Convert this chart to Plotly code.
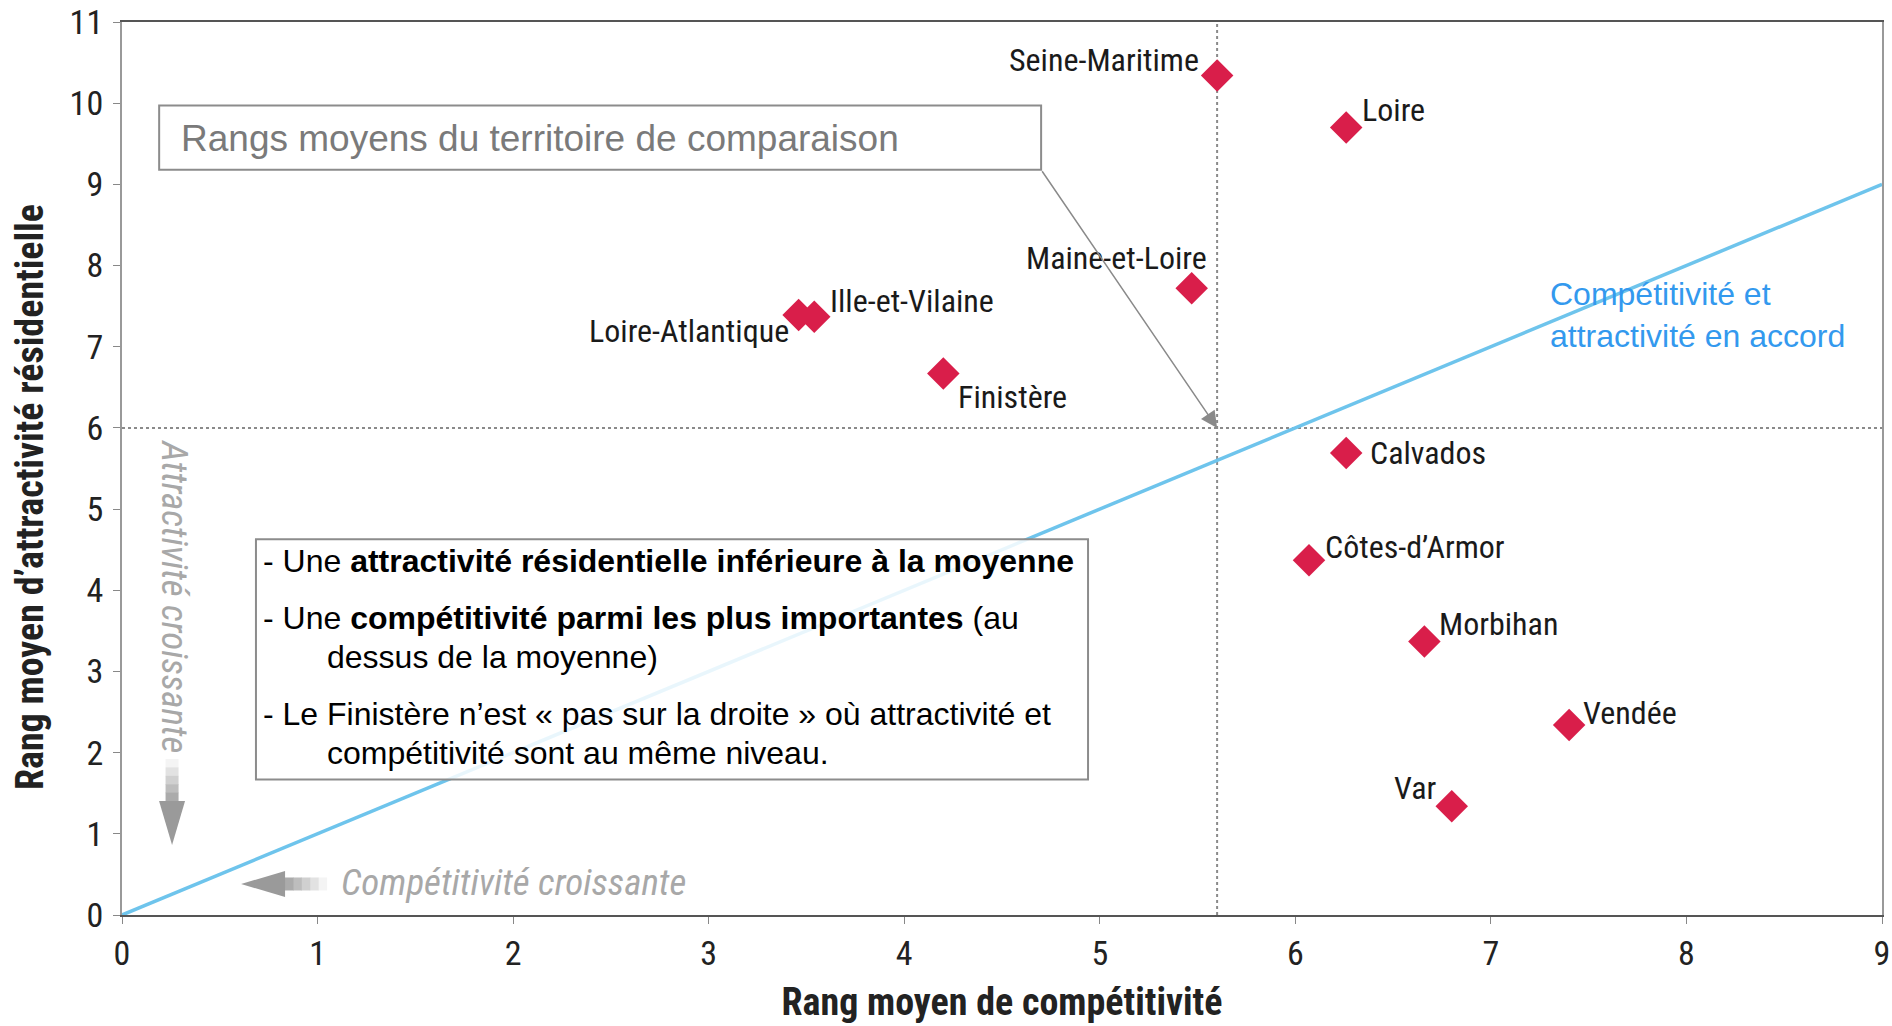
import plotly.graph_objects as go

# ---- data ----
departements = ["Seine-Maritime", "Loire", "Maine-et-Loire", "Ille-et-Vilaine", "Loire-Atlantique",
                "Finistère", "Calvados", "Côtes-d’Armor", "Morbihan", "Vendée", "Var"]
competitivite = [5.60, 6.26, 5.47, 3.54, 3.46, 4.20, 6.26, 6.07, 6.66, 7.40, 6.80]
attractivite = [10.34, 9.70, 7.72, 7.37, 7.39, 6.67, 5.69, 4.37, 3.37, 2.34, 1.34]

moyenne_competitivite = 5.6
moyenne_attractivite = 6.0

diag_x = [0, 9]
diag_y = [0, 9]

x_ticks = [0, 1, 2, 3, 4, 5, 6, 7, 8, 9]
y_ticks = [0, 1, 2, 3, 4, 5, 6, 7, 8, 9, 10, 11]

# label placement (style): xanchor, xshift, yshift
label_style = [
    ("right", -16, 16), ("left", 14, 18), ("right", 17, 30), ("left", 14, 16),
    ("right", -8, -16), ("left", 13, -23), ("left", 22, 0), ("left", 14, 13),
    ("left", 13, 17), ("left", 12, 12), ("right", -13, 18),
]

NARROW = "Liberation Sans Narrow, Arial Narrow, Roboto Condensed, DejaVu Sans Condensed, sans-serif"
REG = "Liberation Sans, Arial, Helvetica, sans-serif"

fig = go.Figure()

fig.add_trace(go.Scatter(x=diag_x, y=diag_y, mode="lines",
                         line=dict(color="#6EC4EC", width=3.5), hoverinfo="skip", showlegend=False))

fig.add_trace(go.Scatter(x=competitivite, y=attractivite, mode="markers",
                         marker=dict(symbol="diamond", size=25, color="#D91E4A"),
                         text=departements, showlegend=False))

# mean lines
fig.add_shape(type="line", xref="x", yref="paper", x0=moyenne_competitivite, x1=moyenne_competitivite,
              y0=0, y1=1, line=dict(color="#8a8a8a", width=2, dash="dot"), layer="below")
fig.add_shape(type="line", xref="paper", yref="y", x0=0, x1=1, y0=moyenne_attractivite,
              y1=moyenne_attractivite, line=dict(color="#8a8a8a", width=2, dash="dot"), layer="below")

# point labels
for name, cx, cy, (xa, xs, ys) in zip(departements, competitivite, attractivite, label_style):
    fig.add_annotation(x=cx, y=cy, text=name, showarrow=False, xanchor=xa, yanchor="middle",
                       xshift=xs, yshift=ys, font=dict(family=NARROW, size=32, color="#1a1a1a"))

# box "Rangs moyens"
fig.add_shape(type="rect", xref="x", yref="y", x0=0.19, x1=4.70, y0=9.18, y1=9.97,
              line=dict(color="#8c8c8c", width=2), fillcolor="white", layer="above")
fig.add_annotation(x=0.29, y=9.56, text="Rangs moyens du territoire de comparaison", showarrow=False,
                   xanchor="left", yanchor="middle", font=dict(family=REG, size=37, color="#7a7a7a"))
fig.add_annotation(x=moyenne_competitivite, y=moyenne_attractivite, ax=4.70, ay=9.18, axref="x", ayref="y",
                   text="", showarrow=True, arrowhead=2, arrowsize=2.2, arrowwidth=1.5,
                   arrowcolor="#8a8a8a", standoff=0)

# explanation box
fig.add_shape(type="rect", xref="x", yref="y", x0=0.685, x1=4.94, y0=1.67, y1=4.63,
              line=dict(color="#8c8c8c", width=2), fillcolor="rgba(255,255,255,0.85)", layer="above")
box_lines = [
    (0.71, 4.36, "- Une <b>attractivité résidentielle inférieure à la moyenne</b>"),
    (0.71, 3.66, "- Une <b>compétitivité parmi les plus importantes</b> (au"),
    (1.04, 3.18, "dessus de la moyenne)"),
    (0.71, 2.48, "- Le Finistère n’est « pas sur la droite » où attractivité et"),
    (1.04, 2.00, "compétitivité sont au même niveau."),
]
for bx, by, bt in box_lines:
    fig.add_annotation(x=bx, y=by, text=bt, showarrow=False, xanchor="left", yanchor="middle",
                       font=dict(family=REG, size=32, color="#000000"))

# blue text
fig.add_annotation(x=7.29, y=7.39, text="Compétitivité et<br>attractivité en accord", showarrow=False,
                   xanchor="left", yanchor="middle", align="left",
                   font=dict(family=REG, size=32, color="#3399EE"))

# gray direction hints
fig.add_annotation(x=0.265, y=3.93, text="<i>Attractivité croissante</i>", textangle=90, showarrow=False,
                   font=dict(family=NARROW, size=37, color="#a8a8a8"))
fig.add_annotation(x=2.0, y=0.40, text="<i>Compétitivité croissante</i>", showarrow=False,
                   font=dict(family=NARROW, size=37, color="#a8a8a8"))

# gradient arrows drawn as pixel-sized path shapes (tip anchored in data space)
shaft_grays = ["#f4f4f4", "#e2e2e2", "#d0d0d0", "#bdbdbd", "#ababab"]
def arrow(tip_x, tip_y, direction):
    seg = 8.4  # shaft segment length px
    head_len, head_w, shaft_w = 44, 13, 6.5
    for i, col in enumerate(shaft_grays):
        a = head_len + seg * (len(shaft_grays) - i)
        b = head_len + seg * (len(shaft_grays) - i - 1) - 0.5
        if direction == "down":
            p = f"M{-shaft_w},{a} L{shaft_w},{a} L{shaft_w},{b} L{-shaft_w},{b} Z"
        else:
            p = f"M{a},{-shaft_w} L{a},{shaft_w} L{b},{shaft_w} L{b},{-shaft_w} Z"
        fig.add_shape(type="path", xref="x", yref="y", xsizemode="pixel", ysizemode="pixel",
                      xanchor=tip_x, yanchor=tip_y, path=p, fillcolor=col, line=dict(width=0))
    if direction == "down":
        p = f"M0,0 L{-head_w},{head_len} L{head_w},{head_len} Z"
    else:
        p = f"M0,0 L{head_len},{-head_w} L{head_len},{head_w} Z"
    fig.add_shape(type="path", xref="x", yref="y", xsizemode="pixel", ysizemode="pixel",
                  xanchor=tip_x, yanchor=tip_y, path=p, fillcolor="#9a9a9a", line=dict(width=0))

arrow(0.256, 0.862, "down")
arrow(0.609, 0.382, "left")

# y-axis title as annotation (offset below the plot centre, as in the reference)
fig.add_annotation(xref="paper", yref="paper", x=-0.0523, y=0.468, textangle=-90, showarrow=False,
                   text="<b>Rang moyen d’attractivité résidentielle</b>", xanchor="center", yanchor="middle",
                   font=dict(family=NARROW, size=38, color="#222"))

fig.update_layout(
    width=1892, height=1026,
    margin=dict(l=122, r=10, t=22, b=111),
    paper_bgcolor="white", plot_bgcolor="white",
    font=dict(family=NARROW, color="#222"),
    xaxis=dict(range=[0, 9], tickvals=x_ticks, showgrid=False, zeroline=False, automargin=False,
               showline=True, linecolor="#555", linewidth=2, mirror=True,
               ticks="outside", ticklen=7, tickcolor="#888", ticklabelstandoff=0,
               tickfont=dict(family=NARROW, size=34, color="#222"),
               title=dict(text="<b>Rang moyen de compétitivité</b>", standoff=17,
                          font=dict(family=NARROW, size=38, color="#222"))),
    yaxis=dict(range=[0, 11], tickvals=y_ticks, showgrid=False, zeroline=False, automargin=False,
               showline=True, linecolor="#999", linewidth=2, mirror=True,
               ticks="outside", ticklen=7, tickcolor="#888", ticklabelstandoff=3,
               tickfont=dict(family=NARROW, size=34, color="#222")),
)

fig.write_html("out.html", config={"displayModeBar": False},
               post_script="document.body.style.margin='0';")
